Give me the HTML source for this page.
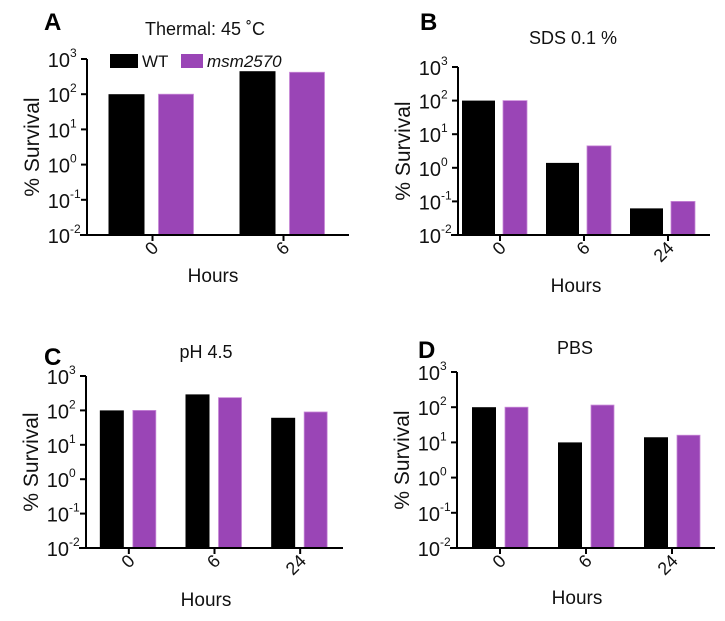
<!DOCTYPE html>
<html><head><meta charset="utf-8"><style>
html,body{margin:0;padding:0;background:#fff;}
svg{display:block;font-family:"Liberation Sans",Arial,sans-serif;}
</style></head><body>
<svg id="fig" width="725" height="621" viewBox="0 0 725 621" xmlns="http://www.w3.org/2000/svg"></svg>
<script>
// Data (percent survival)
const catsA = ["0","6"];
const wtA = [100, 450];
const mutA = [100, 420];
const catsB = ["0","6","24"];
const wtB = [100, 1.4, 0.062];
const mutB = [100, 4.5, 0.1];
const catsC = ["0","6","24"];
const wtC = [100, 292, 61];
const mutC = [100, 235, 90];
const catsD = ["0","6","24"];
const wtD = [100, 10, 14];
const mutD = [100, 115, 16];
const decades = [-2,-1,0,1,2,3];

const NS = "http://www.w3.org/2000/svg";
const svg = document.getElementById("fig");
function mk(tag, attrs, parent){
  const e = document.createElementNS(NS, tag);
  for (const k in attrs) e.setAttribute(k, attrs[k]);
  (parent||svg).appendChild(e);
  return e;
}
const PURPLE = "#9a45b6";

function panel(p){
  const g = mk("g", {});
  
  
  const y = v => p.yBot - (Math.log10(v) + 2) / 5 * (p.yBot - p.yTop);
  const band = (p.x1 - p.x0) / p.cats.length;
  const cx = i => p.x0 + band * (i + 0.5);
  p.cats.forEach((c, i) => {
    const wl = cx(i) - p.gl - p.wW;
    const r1 = mk("rect", {x: wl, y: y(p.wt[i]), width: p.wW, height: p.yBot - y(p.wt[i]), fill: "#000"}, g);
    
    
    const r2 = mk("rect", {x: cx(i) + p.gr, y: y(p.mut[i]), width: p.wM, height: p.yBot - y(p.mut[i]), fill: PURPLE, stroke: "#c98ad8", "stroke-width": 0.8}, g);
    
    
    mk("line", {x1: cx(i), y1: p.yBot, x2: cx(i), y2: p.yBot + 6, stroke: "#000", "stroke-width": 2}, g);
    const t = mk("text", {x: 0, y: 0, "font-size": 18, "text-anchor": "end", transform: `translate(${cx(i)+7},${p.yBot+14}) rotate(-45)`, fill: "#111"}, g);
    t.textContent = c;
    
    
  });
  const ya = mk("line", {x1: p.x0, y1: p.yTop, x2: p.x0, y2: p.yBot + 1, stroke: "#000", "stroke-width": 2}, g);
  
  
  const xa = mk("line", {x1: p.x0 - 7, y1: p.yBot, x2: p.x1, y2: p.yBot, stroke: "#000", "stroke-width": 2}, g);
  
  
  decades.forEach(d => {
    const yy = y(Math.pow(10, d));
    mk("line", {x1: p.x0 - 6, y1: yy, x2: p.x0, y2: yy, stroke: "#000", "stroke-width": 2}, g);
    const t = mk("text", {x: p.x0 - 17, y: yy + 8, "font-size": 20, "text-anchor": "end", fill: "#111"}, g);
    t.textContent = "10";
    
    
    const s = mk("text", {x: p.x0 - 17, y: yy - 2, "font-size": 12, "text-anchor": "start", fill: "#111"}, g);
    s.textContent = String(d);
  });
  const yl = mk("text", {x: 0, y: 0, "font-size": 21, "text-anchor": "middle", transform: `translate(${p.x0-48},${(p.yTop+p.yBot)/2}) rotate(-90)`, fill: "#111"}, g);
  yl.textContent = "% Survival";
  
  
  const xl = mk("text", {x: p.hx, y: p.hy, "font-size": 19, "text-anchor": "middle", fill: "#111"}, g);
  xl.textContent = "Hours";
  
  
  const tt = mk("text", {x: p.tx, y: p.ty, "font-size": 18, "text-anchor": "middle", fill: "#111"}, g);
  tt.textContent = p.title;
  
  
  const lt = mk("text", {x: p.lx, y: p.ly, "font-size": 24, "font-weight": "bold", fill: "#000"}, g);
  lt.textContent = p.letter;
  
  
}

panel({letter:"A", title:"Thermal: 45 ˚C", cats:catsA, wt:wtA, mut:mutA, x0:87, x1:349, yTop:59, yBot:235, gl:8, gr:6, wW:36, wM:35, hx:213, hy:282, tx:205, ty:35, lx:44, ly:30});
panel({letter:"B", title:"SDS 0.1 %", cats:catsB, wt:wtB, mut:mutB, x0:458, x1:710, yTop:67, yBot:235, gl:5, gr:3, wW:33, wM:24, hx:576, hy:292, tx:573, ty:44, lx:420, ly:30});
panel({letter:"C", title:"pH 4.5", cats:catsC, wt:wtC, mut:mutC, x0:86, x1:343, yTop:376, yBot:548, gl:5, gr:4, wW:24, wM:23, hx:206, hy:606, tx:206, ty:358, lx:44, ly:365});
panel({letter:"D", title:"PBS", cats:catsD, wt:wtD, mut:mutD, x0:457, x1:715, yTop:372, yBot:548, gl:4, gr:5, wW:24, wM:23, hx:577, hy:604, tx:575, ty:354, lx:418, ly:358});

const leg = mk("g", {});


mk("rect", {x:110, y:54, width:28, height:14, fill:"#000"}, leg);
const l1 = mk("text", {x:142, y:67, "font-size":17, fill:"#111"}, leg);
l1.textContent = "WT";


mk("rect", {x:181, y:54, width:22, height:14, fill:PURPLE}, leg);
const l2 = mk("text", {x:207, y:67, "font-size":17, "font-style":"italic", fill:"#111"}, leg);
l2.textContent = "msm2570";


</script>
</body></html>
